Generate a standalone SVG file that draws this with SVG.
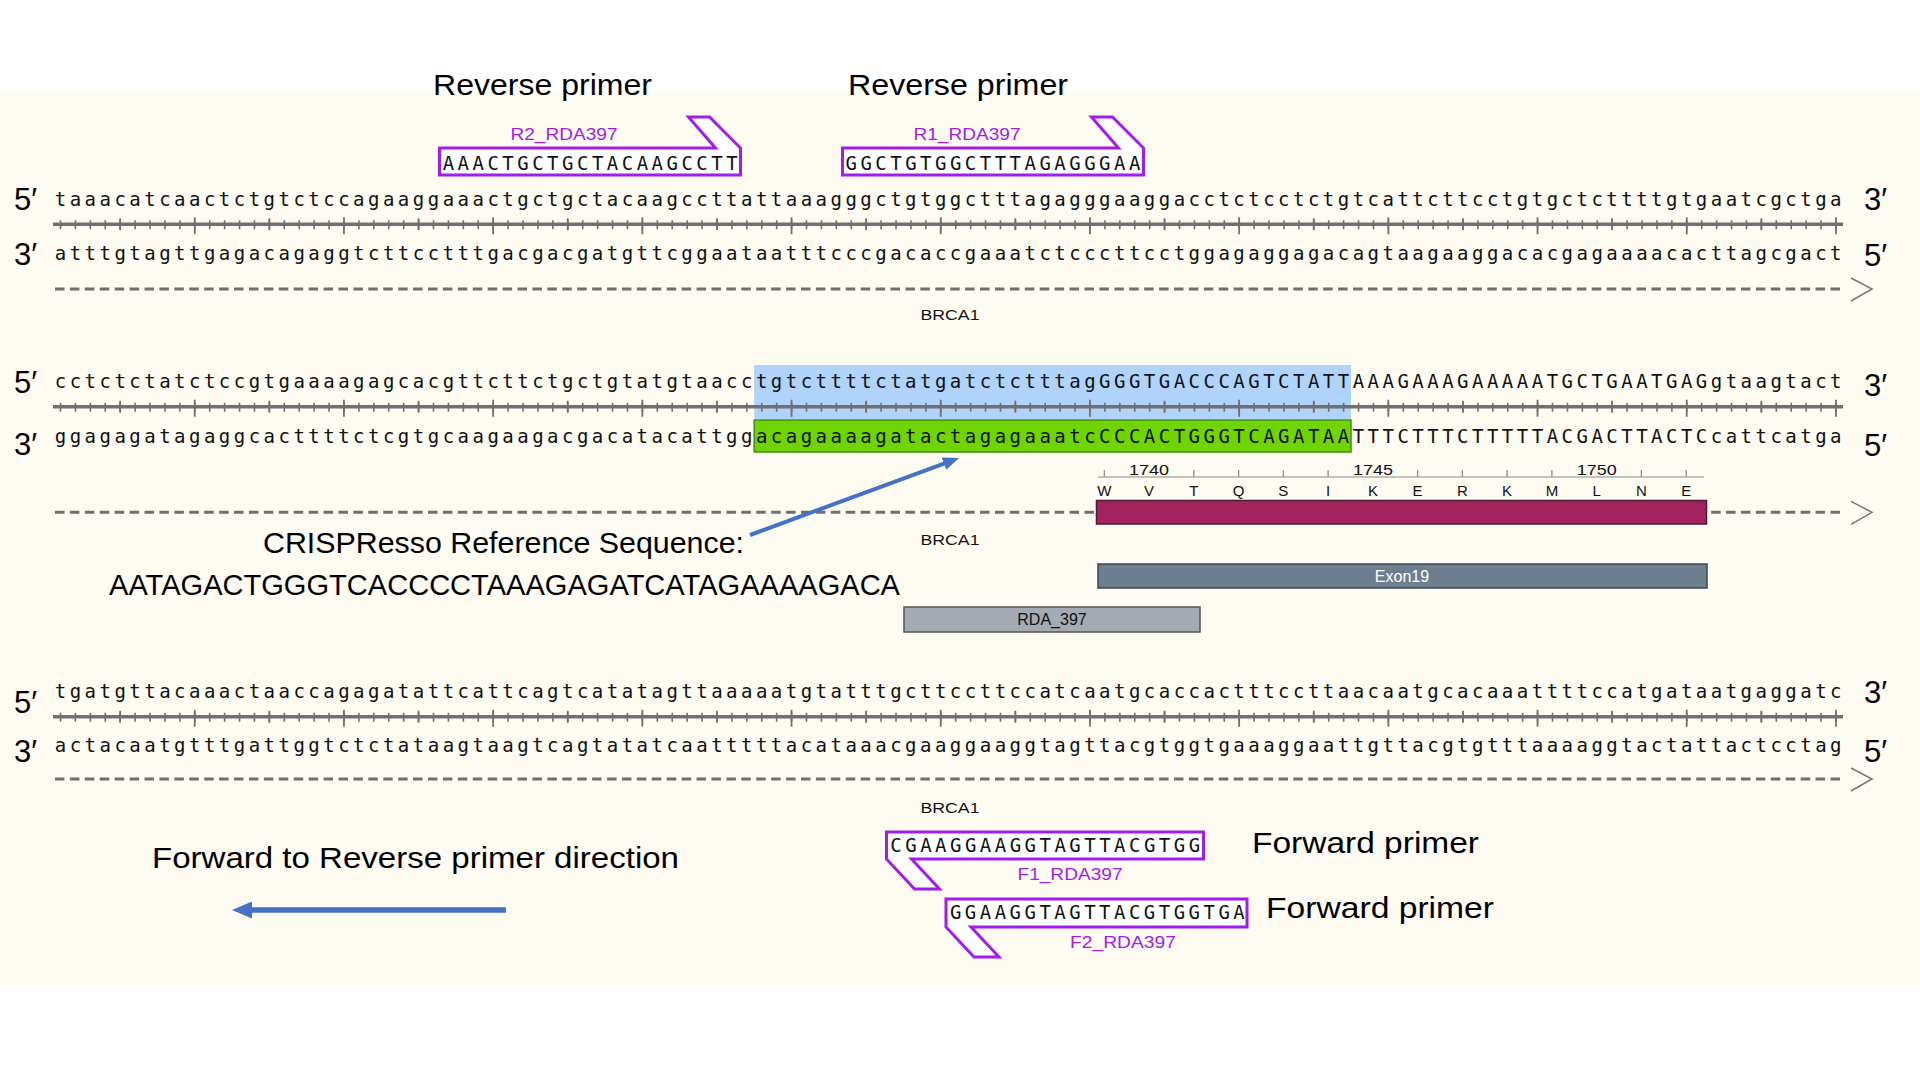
<svg xmlns="http://www.w3.org/2000/svg" xmlns:xlink="http://www.w3.org/1999/xlink" width="1920" height="1080" viewBox="0 0 1920 1080">
<style>
.seq{font-family:"DejaVu Sans Mono","Liberation Mono",monospace;font-size:19px;letter-spacing:3.48px;fill:#111}
.end{font-family:"Liberation Sans",Arial,sans-serif;font-size:31px;fill:#000}
.big{font-family:"Liberation Sans",Arial,sans-serif;font-size:29px;fill:#000}
.lbl{font-family:"Liberation Sans",Arial,sans-serif;font-size:15px;fill:#111;text-anchor:middle}
.plbl{font-family:"Liberation Sans",Arial,sans-serif;font-size:17px;fill:#A21CEF;text-anchor:middle}
.aa{font-family:"Liberation Sans",Arial,sans-serif;font-size:15px;fill:#111;text-anchor:middle}
.primer{fill:#fff;stroke:#A21CEF;stroke-width:3;stroke-linejoin:miter}
.tick{stroke:#707070;fill:none}
.feat{stroke-width:1.5}
</style>
<defs>
<g id="ruler">
<line x1="53" y1="0" x2="1843" y2="0" stroke="#707070" stroke-width="3.5"/>
<line x1="59.71" y1="0.5" x2="1843" y2="0.5" class="tick" stroke-width="9" stroke-dasharray="1.6 13.32"/>
<line x1="119.24" y1="0" x2="1845" y2="0" class="tick" stroke-width="12" stroke-dasharray="1.8 147.4"/>
<line x1="193.84" y1="1.5" x2="1845" y2="1.5" class="tick" stroke-width="17" stroke-dasharray="1.8 147.4"/>
</g>
<g id="track">
<line x1="55" y1="0" x2="1843" y2="0" stroke="#6f6f6f" stroke-width="3" stroke-dasharray="9.5 5.42"/>
<polyline points="1851,-11 1872,0 1851,12" fill="none" stroke="#777" stroke-width="1.5"/>
</g>
<marker id="ah1" viewBox="0 0 16 13" refX="8" refY="6.5" markerWidth="16" markerHeight="13" markerUnits="userSpaceOnUse" orient="auto">
<path d="M0,0 L16,6.5 L0,13 z" fill="#4472C4"/>
</marker>
<marker id="ah2" viewBox="0 0 20 17" refX="8" refY="8.5" markerWidth="20" markerHeight="17" markerUnits="userSpaceOnUse" orient="auto">
<path d="M0,0 L20,8.5 L0,17 z" fill="#4472C4"/>
</marker>
</defs>

<rect x="0" y="0" width="1920" height="1080" fill="#fff"/>
<rect x="0" y="91" width="1920" height="897" fill="#FDFBF2"/>

<g id="title-reverse-primers">
<text class="big" x="433" y="95" textLength="219" lengthAdjust="spacingAndGlyphs">Reverse primer</text>
<text class="big" x="848" y="95" textLength="220" lengthAdjust="spacingAndGlyphs">Reverse primer</text>
</g>

<g id="primer-R2">
<text class="plbl" x="564" y="140" textLength="107" lengthAdjust="spacingAndGlyphs">R2_RDA397</text>
<path class="primer" d="M439.5,148 H715.5 L688.5,117 H709.5 L740.5,148 V175 H439.5 Z"/>
<text class="seq" x="442.7" y="170">AAACTGCTGCTACAAGCCTT</text>
</g>
<g id="primer-R1">
<text class="plbl" x="967" y="140" textLength="107" lengthAdjust="spacingAndGlyphs">R1_RDA397</text>
<path class="primer" d="M842.5,148 H1118.5 L1091.5,117 H1112.5 L1143.5,148 V175 H842.5 Z"/>
<text class="seq" x="845.5" y="170">GGCTGTGGCTTTAGAGGGAA</text>
</g>

<g id="block1">
<text class="end" x="14" y="210">5′</text>
<text class="end" x="14" y="265">3′</text>
<text class="end" x="1864" y="210">3′</text>
<text class="end" x="1864" y="266">5′</text>
<text class="seq" x="54.74" y="206">taaacatcaactctgtctccagaaggaaactgctgctacaagccttattaaagggctgtggctttagagggaaggacctctcctctgtcattcttcctgtgctcttttgtgaatcgctga</text>
<use xlink:href="#ruler" href="#ruler" y="224.3"/>
<text class="seq" x="54.74" y="259.8">atttgtagttgagacagaggtcttcctttgacgacgatgttcggaataatttcccgacaccgaaatctcccttcctggagaggagacagtaagaaggacacgagaaaacacttagcgact</text>
<use xlink:href="#track" href="#track" y="289"/>
<text class="lbl" x="950" y="320" textLength="59" lengthAdjust="spacingAndGlyphs">BRCA1</text>
</g>

<g id="block2">
<rect x="754.2" y="365" width="596.8" height="54" fill="#AFD3FB"/>
<rect x="754.2" y="420" width="596.8" height="32" fill="#6FD400" stroke="#3E8E0A" stroke-width="1.5"/>
<text class="end" x="14" y="393">5′</text>
<text class="end" x="14" y="455">3′</text>
<text class="end" x="1864" y="396">3′</text>
<text class="end" x="1864" y="456">5′</text>
<text class="seq" x="54.74" y="388.4">cctctctatctccgtgaaaagagcacgttcttctgctgtatgtaacctgtcttttctatgatctctttagGGGTGACCCAGTCTATTAAAGAAAGAAAAATGCTGAATGAGgtaagtact</text>
<use xlink:href="#ruler" href="#ruler" y="406.7"/>
<text class="seq" x="54.74" y="442.6">ggagagatagaggcacttttctcgtgcaagaagacgacatacattggacagaaaagatactagagaaatcCCCACTGGGTCAGATAATTTCTTTCTTTTTACGACTTACTCcattcatga</text>
<use xlink:href="#track" href="#track" y="512.3"/>
<text class="lbl" x="950" y="545" textLength="59" lengthAdjust="spacingAndGlyphs">BRCA1</text>
</g>

<g id="translation">
<line x1="1098" y1="477" x2="1704" y2="477" stroke="#888" stroke-width="1.2"/>
<path d="M1104.3,470v7 M1193.8,470v7 M1238.6,470v7 M1283.3,470v7 M1328.1,470v7 M1417.6,470v7 M1462.4,470v7 M1507.1,470v7 M1551.9,470v7 M1641.4,470v7 M1686.2,470v7" stroke="#888" stroke-width="1.2" fill="none"/>
<text class="aa" x="1149.1" y="475" textLength="40" lengthAdjust="spacingAndGlyphs">1740</text>
<text class="aa" x="1372.9" y="475" textLength="40" lengthAdjust="spacingAndGlyphs">1745</text>
<text class="aa" x="1596.7" y="475" textLength="40" lengthAdjust="spacingAndGlyphs">1750</text>
<text class="aa" y="496"><tspan x="1104.3">W</tspan><tspan x="1149.1">V</tspan><tspan x="1193.8">T</tspan><tspan x="1238.6">Q</tspan><tspan x="1283.3">S</tspan><tspan x="1328.1">I</tspan><tspan x="1372.9">K</tspan><tspan x="1417.6">E</tspan><tspan x="1462.4">R</tspan><tspan x="1507.1">K</tspan><tspan x="1551.9">M</tspan><tspan x="1596.7">L</tspan><tspan x="1641.4">N</tspan><tspan x="1686.2">E</tspan></text>
<rect class="feat" x="1096.5" y="500.5" width="610" height="23.5" fill="#A3235F" stroke="#4a1a2e"/>
</g>

<g id="exon19">
<rect class="feat" x="1098" y="564" width="609" height="24" fill="#6D7E8E" stroke="#3C4650"/>
<text class="lbl" x="1402" y="582" style="fill:#fff;font-size:16px">Exon19</text>
</g>

<g id="rda397">
<rect class="feat" x="904" y="607" width="296" height="25" fill="#A5ABB2" stroke="#555"/>
<text class="lbl" x="1052" y="625" style="font-size:16px">RDA_397</text>
</g>

<g id="crispresso-label">
<text class="big" x="263" y="553" textLength="481" lengthAdjust="spacingAndGlyphs">CRISPResso Reference Sequence:</text>
<text class="big" x="109" y="595" textLength="791" lengthAdjust="spacingAndGlyphs">AATAGACTGGGTCACCCCTAAAGAGATCATAGAAAAGACA</text>
</g>

<g id="block3">
<text class="end" x="14" y="713">5′</text>
<text class="end" x="14" y="762">3′</text>
<text class="end" x="1864" y="703">3′</text>
<text class="end" x="1864" y="762">5′</text>
<text class="seq" x="54.74" y="698.4">tgatgttacaaactaaccagagatattcattcagtcatatagttaaaaatgtatttgcttccttccatcaatgcaccactttccttaacaatgcacaaattttccatgataatgaggatc</text>
<use xlink:href="#ruler" href="#ruler" y="716.7"/>
<text class="seq" x="54.74" y="752.2">actacaatgtttgattggtctctataagtaagtcagtatatcaatttttacataaacgaaggaaggtagttacgtggtgaaaggaattgttacgtgtttaaaaggtactattactcctag</text>
<use xlink:href="#track" href="#track" y="779"/>
<text class="lbl" x="950" y="813" textLength="59" lengthAdjust="spacingAndGlyphs">BRCA1</text>
</g>

<g id="primer-F1">
<path class="primer" d="M886.5,832 H1203.5 V859 H911.5 L939.5,889 H914.5 L886.5,859 Z"/>
<text class="seq" x="890.3" y="852">CGAAGGAAGGTAGTTACGTGG</text>
<text class="plbl" x="1070" y="880" textLength="105" lengthAdjust="spacingAndGlyphs">F1_RDA397</text>
<text class="big" x="1252" y="853" textLength="227" lengthAdjust="spacingAndGlyphs">Forward primer</text>
</g>
<g id="primer-F2">
<path class="primer" d="M946,899 H1247 V927 H971 L999,957 H974 L946,927 Z"/>
<text class="seq" x="949.9" y="919">GGAAGGTAGTTACGTGGTGA</text>
<text class="plbl" x="1123" y="948" textLength="106" lengthAdjust="spacingAndGlyphs">F2_RDA397</text>
<text class="big" x="1266" y="918" textLength="228" lengthAdjust="spacingAndGlyphs">Forward primer</text>
</g>

<g id="direction-label">
<text class="big" x="152" y="868" textLength="527" lengthAdjust="spacingAndGlyphs">Forward to Reverse primer direction</text>
</g>

<g id="connectors">
<line x1="750" y1="535" x2="951.5" y2="460.8" stroke="#4472C4" stroke-width="4" marker-end="url(#ah1)"/>
<line x1="506" y1="910" x2="244" y2="910" stroke="#4472C4" stroke-width="5.5" marker-end="url(#ah2)"/>
</g>
</svg>
